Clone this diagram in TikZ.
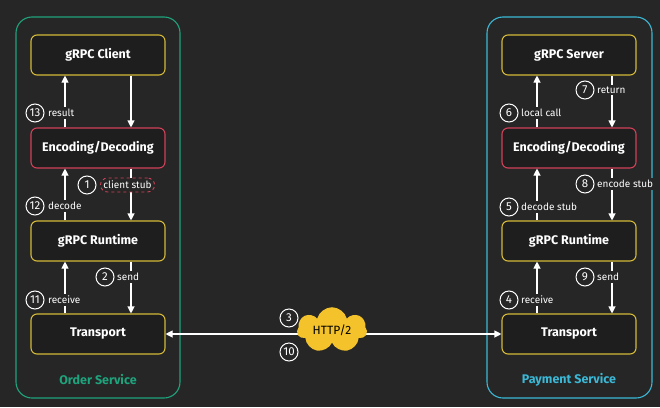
\documentclass[tikz,border=0pt]{standalone}
\usepackage{fontspec}
\setmainfont{Fira Sans}
\usetikzlibrary{arrows.meta, positioning, shapes.symbols}
\definecolor{bgdark}{HTML}{262626}
\definecolor{boxfill}{HTML}{1E1E1E}
\definecolor{yelline}{HTML}{D4BA38}
\definecolor{redline}{HTML}{D2415A}
\definecolor{greenline}{HTML}{1FA37C}
\definecolor{cyanline}{HTML}{3BB8D6}
\definecolor{cloudy}{HTML}{F4C32B}
\tikzset{
  comp/.style={draw=yelline, line width=1.1pt, fill=boxfill, rounded corners=6pt, minimum width=134pt, minimum height=40pt, text=white, font=\bfseries\fontsize{12.5}{14}\selectfont},
  codec/.style={comp, draw=redline},
  flow/.style={white, line width=1.1pt, -{Triangle[width=7pt,length=7pt]}},
  num/.style={circle, draw=white, line width=1pt, fill=bgdark, inner sep=0pt, minimum size=18pt, text=white, font=\fontsize{11.5}{13}\selectfont},
  lbl/.style={text=white, fill=bgdark, inner sep=2pt, font=\fontsize{10}{12}\selectfont, anchor=west}
}
\begin{document}
\begin{tikzpicture}[x=1pt,y=-1pt]
    \useasboundingbox[fill=bgdark] (0,0) rectangle (660,407);

    % Service frames
    \draw[greenline, line width=1.1pt, rounded corners=16pt] (16,17) rectangle (180,398);
    \draw[cyanline, line width=1.1pt, rounded corners=16pt] (487,17) rectangle (652,398);
    \node[text=greenline, font=\bfseries\fontsize{12.5}{14}\selectfont] (ordlbl) at (98,380) {Order Service};
    \node[text=cyanline, font=\bfseries\fontsize{12.5}{14}\selectfont] (paylbl) at (569,380) {Payment Service};

    % Order side components
    \node[comp] (client) at (98,55) {gRPC Client};
    \node[codec] (cenc) at (98,148) {Encoding/Decoding};
    \node[comp] (crun) at (98,241) {gRPC Runtime};
    \node[comp] (ctrans) at (98,334) {Transport};

    % Payment side components
    \node[comp] (server) at (569,55) {gRPC Server};
    \node[codec] (senc) at (569,148) {Encoding/Decoding};
    \node[comp] (srun) at (569,241) {gRPC Runtime};
    \node[comp] (strans) at (569,334) {Transport};

    % Order side arrows
    \draw[flow] ([xshift=33pt]client.south) -- ([xshift=33pt]cenc.north);
    \draw[flow] ([xshift=33pt]cenc.south) -- ([xshift=33pt]crun.north);
    \draw[flow] ([xshift=33pt]crun.south) -- ([xshift=33pt]ctrans.north);
    \draw[flow] ([xshift=-33pt]ctrans.north) -- ([xshift=-33pt]crun.south);
    \draw[flow] ([xshift=-33pt]crun.north) -- ([xshift=-33pt]cenc.south);
    \draw[flow] ([xshift=-33pt]cenc.north) -- ([xshift=-33pt]client.south);

    % Payment side arrows
    \draw[flow] ([xshift=-32pt]strans.north) -- ([xshift=-32pt]srun.south);
    \draw[flow] ([xshift=-32pt]srun.north) -- ([xshift=-32pt]senc.south);
    \draw[flow] ([xshift=-32pt]senc.north) -- ([xshift=-32pt]server.south);
    \draw[flow] ([xshift=43pt]server.south) -- ([xshift=43pt]senc.north);
    \draw[flow] ([xshift=43pt]senc.south) -- ([xshift=43pt]srun.north);
    \draw[flow] ([xshift=43pt]srun.south) -- ([xshift=43pt]strans.north);

    % Order side labels
    \node[num] (n13) at (35,113) {13};
    \node[lbl] (l13) at (46,113) {result};
    \node[num] (n1) at (87,185) {1};
    \node[lbl, draw=redline, dashed, line width=0.9pt, rounded corners=7pt, inner sep=3pt] (l1) at (100,185) {client stub};
    \node[num] (n12) at (35,206) {12};
    \node[lbl] (l12) at (46,206) {decode};
    \node[num] (n2) at (105,277) {2};
    \node[lbl] (l2) at (115,277) {send};
    \node[num] (n11) at (35,300) {11};
    \node[lbl] (l11) at (46,300) {receive};

    % Payment side labels
    \node[num] (n6) at (509,113) {6};
    \node[lbl] (l6) at (519,113) {local call};
    \node[num] (n7) at (585,90) {7};
    \node[lbl] (l7) at (595,90) {return};
    \node[num] (n8) at (585,184) {8};
    \node[lbl] (l8) at (595,184) {encode stub};
    \node[num] (n5) at (509,207) {5};
    \node[lbl] (l5) at (519,207) {decode stub};
    \node[num] (n9) at (585,277) {9};
    \node[lbl] (l9) at (595,277) {send};
    \node[num] (n4) at (509,300) {4};
    \node[lbl] (l4) at (519,300) {receive};

    % Network link
    \draw[white, line width=1.1pt, {Triangle[width=7pt,length=7pt]}-{Triangle[width=7pt,length=7pt]}] (ctrans.east) -- (strans.west);
    \node[cloud, cloud puffs=7, aspect=1.8, fill=cloudy, minimum width=70pt, minimum height=42pt, inner sep=0pt, font=\fontsize{12}{14}\selectfont] (net) at (332,330) {HTTP/2};
    \node[num] (n3) at (289,318) {3};
    \node[num] (n10) at (289,352) {10};
\end{tikzpicture}
\end{document}
